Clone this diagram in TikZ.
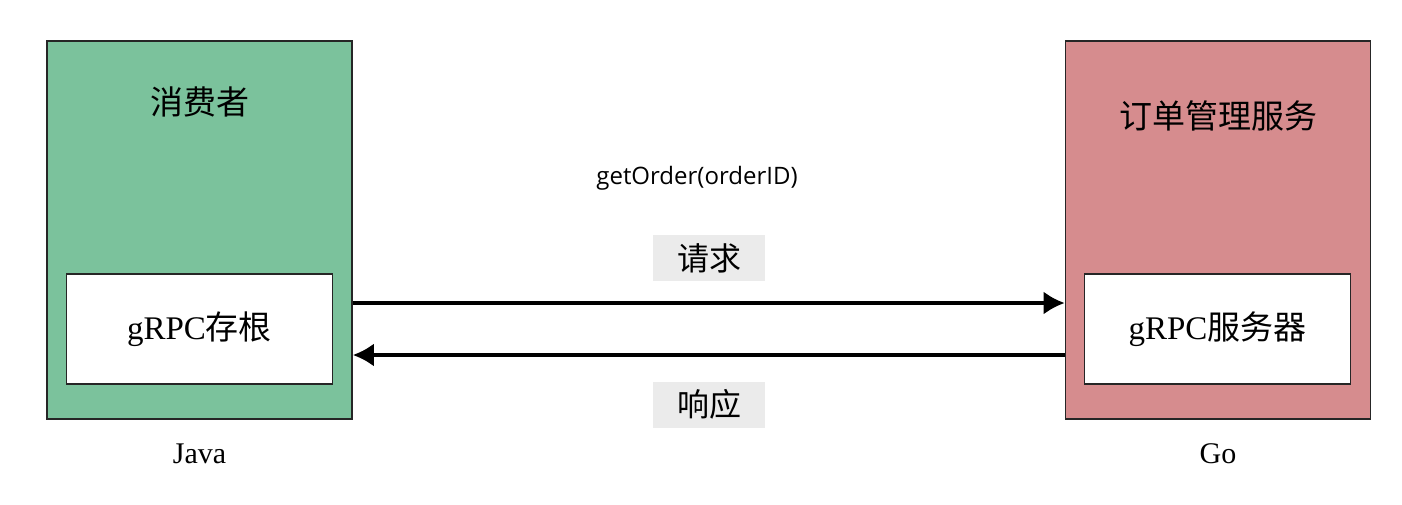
\documentclass[tikz,border=0pt]{standalone}
\usepackage{fontspec}
\setmainfont{Liberation Serif}
\newfontfamily\cjk{Noto Sans CJK SC}
\newfontfamily\uisans{Open Sans}
\usetikzlibrary{arrows.meta, positioning}

\definecolor{consumergreen}{RGB}{123,194,156}
\definecolor{servicered}{RGB}{214,140,142}
\definecolor{labelgrey}{RGB}{235,235,235}

\begin{document}
\begin{tikzpicture}[
            x=0.5pt, y=-0.5pt,
            >={Latex[length=10.5pt,width=11.5pt]},
            service/.style={rectangle, draw=black!85, line width=0.8pt, minimum width=152.5pt, minimum height=189pt, inner sep=0pt},
            stub/.style={rectangle, draw=black!85, fill=white, line width=0.8pt, minimum width=133pt, minimum height=55pt, font=\fontsize{16.5pt}{20pt}\selectfont},
            title/.style={font=\cjk\fontsize{16.5pt}{20pt}\selectfont},
            lang/.style={font=\fontsize{15pt}{18pt}\selectfont},
            msg/.style={fill=labelgrey, minimum width=56pt, minimum height=23pt, inner sep=0pt, font=\cjk\fontsize{16pt}{20pt}\selectfont},
            call/.style={->, line width=1.7pt}
        ]
            \useasboundingbox (0,0) rectangle (1402,504);
            \fill[white] (0,0) rectangle (1402,504);

            \node (consumer) [service, fill=consumergreen] at (199.5,230) {};
            \node (ordersvc) [service, fill=servicered] at (1218,230) {};

            \node (stub) [stub] at (199.5,329) {gRPC{\cjk 存根}};
            \node (server) [stub] at (1217.5,329) {gRPC{\cjk 服务器}};

            \node (consumertitle) [title] at ([yshift=-31pt]consumer.north) {消费者};
            \node (ordertitle) [title] at ([yshift=-38pt]ordersvc.north) {订单管理服务};

            \node (java) [lang] at ([yshift=-17pt]consumer.south) {Java};
            \node (go) [lang] at ([yshift=-17pt]ordersvc.south) {Go};

            \node (method) [font=\uisans\fontsize{12pt}{14pt}\selectfont] at (697,178) {getOrder(orderID)};
            \node (request) [msg] at (709,258) {请求};
            \node (response) [msg] at (709,404.5) {响应};

            \draw[call] ([yshift=-36.5pt]consumer.east) -- ([yshift=-36.5pt]ordersvc.west);
            \draw[call] ([yshift=-62.5pt]ordersvc.west) -- ([yshift=-62.5pt]consumer.east);
        \end{tikzpicture}
\end{document}
